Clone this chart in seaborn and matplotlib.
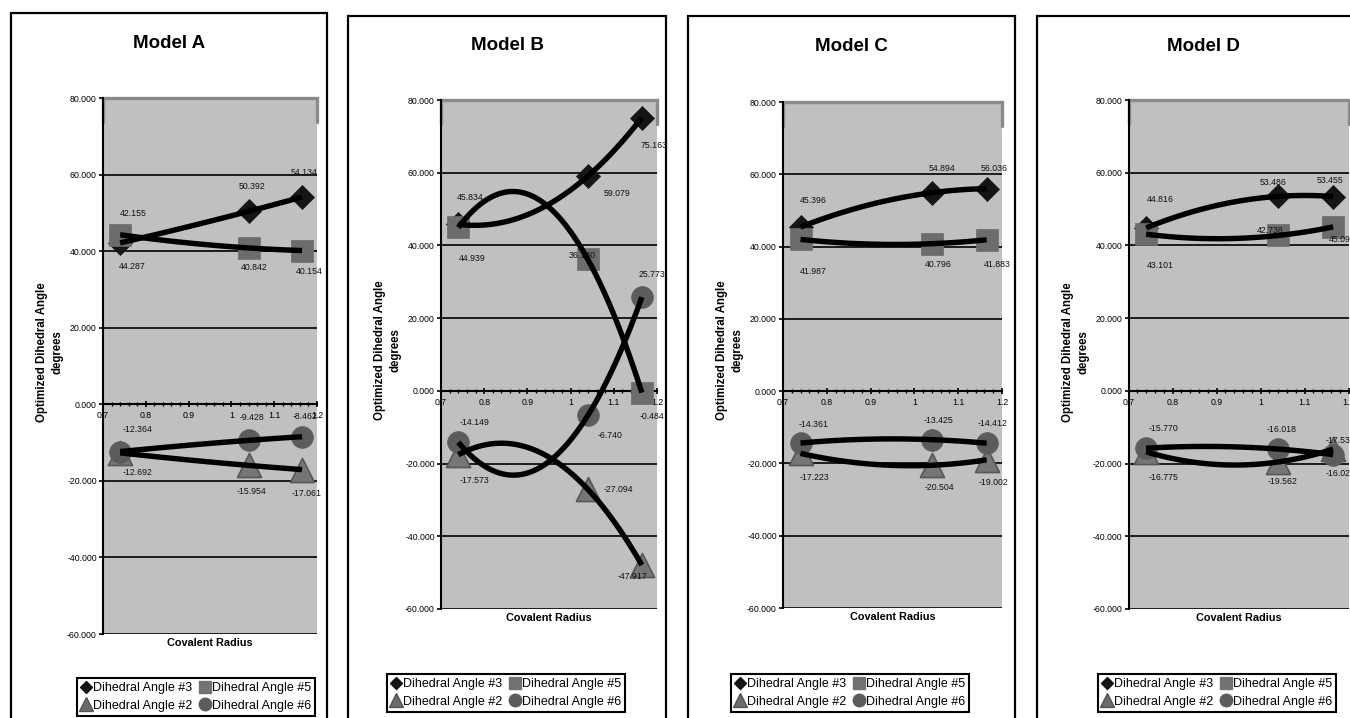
import numpy as np
import matplotlib
matplotlib.use("Agg")
import matplotlib.pyplot as plt
import seaborn as sns
from matplotlib.lines import Line2D
from matplotlib.patches import Rectangle
from matplotlib.ticker import MultipleLocator

sns.set_theme(style="white")
plt.rcParams["font.family"] = ["Liberation Sans", "DejaVu Sans"]

# ---------------- data ----------------
models = ["Model A", "Model B", "Model C", "Model D"]
covalent_radius = [0.74, 1.04, 1.165]

angle3 = [[42.155, 50.392, 54.134], [45.834, 59.079, 75.163],
          [45.396, 54.894, 56.036], [44.816, 53.486, 53.455]]
angle5 = [[44.287, 40.842, 40.154], [44.939, 36.130, -0.484],
          [41.987, 40.796, 41.883], [43.101, 42.738, 45.093]]
angle2 = [[-12.692, -15.954, -17.061], [-17.573, -27.094, -47.917],
          [-17.223, -20.504, -19.002], [-16.775, -19.562, -16.024]]
angle6 = [[-12.364, -9.428, -8.462], [-14.149, -6.740, 25.773],
          [-14.361, -13.425, -14.412], [-15.770, -16.018, -17.534]]

series_labels = ["Dihedral Angle #3", "Dihedral Angle #5",
                 "Dihedral Angle #2", "Dihedral Angle #6"]
x_ticks = [0.7, 0.8, 0.9, 1.0, 1.1, 1.2]
x_tick_labels = ["0.7", "0.8", "0.9", "1", "1.1", "1.2"]
y_ticks = [-60, -40, -20, 0, 20, 40, 60, 80]
y_tick_labels = ["-60.000", "-40.000", "-20.000", "0.000",
                 "20.000", "40.000", "60.000", "80.000"]

# ---------------- layout / style (pixels) ----------------
W, H = 1350, 718
panel_boxes = [(11, 13, 327), (348, 16, 666), (688, 16, 1015), (1037, 16, 1369)]
plot_boxes = [(103, 98, 317, 634), (441, 100, 657, 609),
              (783, 102, 1002, 608), (1128.5, 100, 1348.5, 609)]
title_y = [43, 45, 46.5, 46.5]
ylabel_frac = [0.526, 0.509, 0.51, 0.505]
legend_centers = [(196, 697), (506, 693), (850, 693), (1217, 693)]

# data-label offsets in pixels (dx right, dy down) per model, per series
label_offsets = [
    {"3": [(13, -29), (3, -25), (2, -25)], "5": [(12, 32), (6, 20), (7, 21)],
     "2": [(17, 20), (3, 26), (5, 24)], "6": [(17, -22), (3, -23), (3, -20)]},
    {"3": [(12, -27), (29, 17), (12, 28)], "5": [(14, 31), (-6, -4), (10, 24)],
     "2": [(16, 26), (31, 0), (-9, 11)], "6": [(16, -20), (22, 20), (10, -23)]},
    {"3": [(13, -27), (10, -24), (7, -20)], "5": [(13, 32), (6, 21), (11, 25)],
     "2": [(14, 24), (8, 22), (7, 23)], "6": [(13, -19), (7, -19), (6, -20)]},
    {"3": [(14, -28), (-5, -14), (-3, -16)], "5": [(14, 31), (-8, -5), (9, 13)],
     "2": [(17, 26), (4, 20), (7, 24)], "6": [(17, -20), (4, -20), (7, -14)]},
]

marker_styles = {
    "3": dict(marker="D", s=150, color="#151515", edgecolor="#151515", linewidth=0.5),
    "5": dict(marker="s", s=230, color="#6c6c6c", edgecolor="#6c6c6c", linewidth=0.5),
    "2": dict(marker="^", s=300, color="#767676", edgecolor="#575757", linewidth=1.2),
    "6": dict(marker="o", s=245, color="#5c5c5c", edgecolor="#5c5c5c", linewidth=0.5),
}

fig = plt.figure(figsize=(W / 100, H / 100), dpi=100)
fig.patch.set_facecolor("white")

for k, model in enumerate(models):
    # outer chart box
    px0, ptop, px1 = panel_boxes[k]
    fig.add_artist(Rectangle((px0 / W, -0.05), (px1 - px0) / W, 1 - ptop / H + 0.05,
                             transform=fig.transFigure, fill=False,
                             edgecolor="black", linewidth=1.6, clip_on=False))
    fig.text((px0 + px1) / 2 / W, 1 - title_y[k] / H, model, ha="center",
             va="center", fontsize=13.5, fontweight="bold", color="black")

    l, t, r, b = plot_boxes[k]
    ax = fig.add_axes([l / W, 1 - b / H, (r - l) / W, (b - t) / H])
    ax.set_facecolor("#c0c0c0")
    ax.set_axisbelow(True)

    series = [("3", angle3[k]), ("5", angle5[k]), ("2", angle2[k]), ("6", angle6[k])]
    for key, vals in series:
        sns.scatterplot(x=covalent_radius, y=vals, ax=ax, zorder=3,
                        legend=False, **marker_styles[key])
    for key, vals in series:
        sns.regplot(x=np.array(covalent_radius), y=np.array(vals), order=2,
                    ci=None, scatter=False, truncate=True, ax=ax, color="black",
                    line_kws=dict(lw=3.9, zorder=4, solid_capstyle="butt"))
        for i, (xv, yv) in enumerate(zip(covalent_radius, vals)):
            dx, dy = label_offsets[k][key][i]
            ax.annotate(f"{yv:.3f}", xy=(xv, yv), xytext=(dx, -dy),
                        textcoords="offset pixels", ha="center", va="center",
                        fontsize=6.3, color="#111111", zorder=3.5,
                        annotation_clip=False)

    ax.set_xlim(0.7, 1.2)
    ax.set_ylim(-60, 80)

    # grid + axes
    ax.yaxis.grid(True, color="black", linewidth=1.2)
    ax.xaxis.grid(False)
    for s in ["top", "right"]:
        ax.spines[s].set_visible(False)
    ax.spines["left"].set_color("black")
    ax.spines["left"].set_linewidth(1.5)
    ax.spines["bottom"].set_position(("data", 0))
    ax.spines["bottom"].set_color("black")
    ax.spines["bottom"].set_linewidth(1.5)
    ax.spines["bottom"].set_zorder(2.7)

    hh = 24 / (b - t)
    ax.plot([0, 0, 1, 1], [1 - hh, 1, 1, 1 - hh], transform=ax.transAxes,
            color="#8a8a8a", lw=2.4, clip_on=False, zorder=2,
            solid_joinstyle="miter")

    ax.set_yticks(y_ticks)
    ax.set_yticklabels(y_tick_labels)
    ax.tick_params(axis="y", which="major", direction="out", length=3,
                   width=1.2, colors="black", pad=1.5, labelsize=6.3, left=True)
    ax.set_xticks(x_ticks)
    ax.set_xticklabels(x_tick_labels)
    ax.xaxis.set_minor_locator(MultipleLocator(0.02))
    ax.tick_params(axis="x", which="major", direction="inout", length=5,
                   width=1.2, colors="black", pad=2.5, labelsize=6.3, bottom=True)
    ax.tick_params(axis="x", which="minor", direction="inout", length=3.5,
                   width=1.0, colors="black", bottom=True)

    ax.set_xlabel("Covalent Radius", fontsize=7.8, fontweight="bold",
                  color="black", va="center")
    ax.xaxis.set_label_coords(0.5, -9 / (b - t))
    ax.set_ylabel("Optimized Dihedral Angle\ndegrees", fontsize=8.3,
                  fontweight="bold", color="black", va="center", ha="center",
                  multialignment="center", linespacing=1.35)
    ax.yaxis.set_label_coords(-53 / (r - l), ylabel_frac[k])

    handles = [
        Line2D([], [], ls="none", marker="D", ms=6.5, mfc="#151515", mec="#151515"),
        Line2D([], [], ls="none", marker="^", ms=10, mfc="#6a6a6a", mec="#555555"),
        Line2D([], [], ls="none", marker="s", ms=8.5, mfc="#727272", mec="#727272"),
        Line2D([], [], ls="none", marker="o", ms=9, mfc="#5c5c5c", mec="#5c5c5c"),
    ]
    labels = [series_labels[0], series_labels[2], series_labels[1], series_labels[3]]
    cx, cy = legend_centers[k]
    leg = ax.legend(handles, labels, ncol=2, loc="center",
                    bbox_to_anchor=(cx / W, 1 - cy / H),
                    bbox_transform=fig.transFigure, frameon=True, fancybox=False,
                    edgecolor="black", facecolor="white", fontsize=9,
                    handlelength=0.8, handletextpad=0.15, columnspacing=0.6,
                    labelspacing=0.45, borderpad=0.3, borderaxespad=0,
                    framealpha=1)
    leg.get_frame().set_linewidth(1.5)
    for txt in leg.get_texts():
        txt.set_color("black")

fig.savefig("out.png", dpi=100, facecolor="white")
